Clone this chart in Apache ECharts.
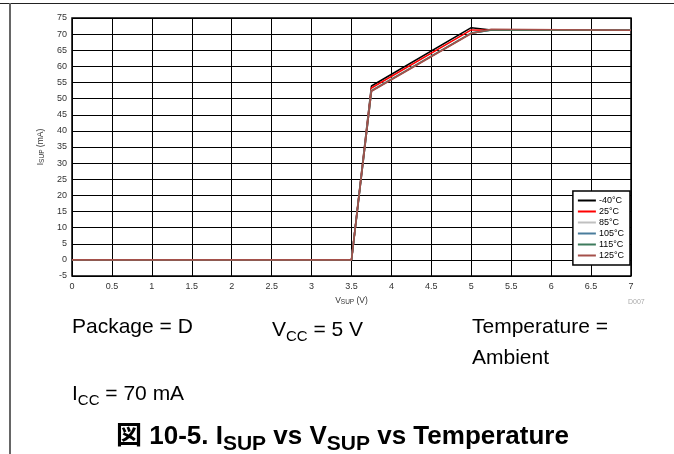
<!DOCTYPE html>
<html><head><meta charset="utf-8">
<script src="https://cdn.jsdelivr.net/npm/echarts@6/dist/echarts.min.js"></script>
<style>html,body{margin:0;padding:0;background:#fff}#c{width:674px;height:454px}</style>
</head><body><div id="c"></div>
<script>
const vsup = [0, 3.5, 3.75, 5, 5.25, 7];
const seriesNames = ['-40°C', '25°C', '85°C', '105°C', '115°C', '125°C'];
const iM40 = [0, 0, 53.9, 72.0, 71.3, 71.2];
const i25 = [0, 0, 53.3, 71.3, 71.2, 71.2];
const i85 = [0, 0, 52.6, 70.4, 71.2, 71.2];
const i105 = [0, 0, 52.4, 70.3, 71.3, 71.2];
const i115 = [0, 0, 52.4, 70.3, 71.3, 71.2];
const i125 = [0, 0, 52.3, 70.2, 71.5, 71.2];
const xTicks = ['0','0.5','1','1.5','2','2.5','3','3.5','4','4.5','5','5.5','6','6.5','7'];
const colors = ['#000000', '#ff0000', '#c0c0c0', '#4a7d9c', '#3d7a5c', '#a5504a'];
const allY = [iM40, i25, i85, i105, i115, i125];

const chart = echarts.init(document.getElementById('c'));
const font = 'Liberation Sans, Arial, sans-serif';
const body = {fontSize: 21, lineHeight: 24, fill: '#000', fontFamily: font};
const bodySub = {fontSize: 15, lineHeight: 24, fill: '#000', fontFamily: font, padding: [12, 0, 0, 0]};
chart.setOption({
  animation: false,
  backgroundColor: '#fff',
  grid: {left: 72, right: 43, top: 18, bottom: 178, show: true, borderColor: '#000', borderWidth: 1.5},
  xAxis: {
    type: 'value', min: 0, max: 7, interval: 0.5,
    axisLine: {show: false}, axisTick: {show: false},
    axisLabel: {fontSize: 9, color: '#333', fontFamily: font, margin: 6,
      formatter: v => xTicks[Math.round(v * 2)]},
    splitLine: {lineStyle: {color: '#000', width: 1}},
    name: '{m|V}{s|SUP}{m| (V)}', nameLocation: 'middle', nameGap: 17,
    nameTextStyle: {rich: {m: {fontSize: 8.5, color: '#333', fontFamily: font}, s: {fontSize: 6.5, color: '#333', fontFamily: font, padding: [3,0,0,0]}}}
  },
  yAxis: {
    type: 'value', min: -5, max: 75, interval: 5,
    axisLine: {show: false}, axisTick: {show: false},
    axisLabel: {fontSize: 9, color: '#333', fontFamily: font, margin: 5},
    splitLine: {lineStyle: {color: '#000', width: 1}},
    name: '{m|I}{s|SUP}{m| (mA)}', nameLocation: 'middle', nameGap: 17, nameRotate: 90,
    nameTextStyle: {rich: {m: {fontSize: 8.5, color: '#333', fontFamily: font}, s: {fontSize: 6.5, color: '#333', fontFamily: font, padding: [3,0,0,0]}}}
  },
  legend: {
    orient: 'vertical', right: 44, top: 191,
    backgroundColor: '#fff', borderColor: '#000', borderWidth: 1.5,
    padding: [5, 6, 5, 5], itemGap: 2, itemWidth: 18, itemHeight: 2, icon: 'rect',
    textStyle: {fontSize: 9, color: '#000', fontFamily: font, padding: [0,0,0,-2]},
    data: seriesNames
  },
  series: allY.map((ys, k) => ({
    name: seriesNames[k], type: 'line', symbol: 'none',
    data: vsup.map((x, i) => [x, ys[i]]),
    lineStyle: {color: colors[k], width: 1.6}, itemStyle: {color: colors[k]}
  })),
  graphic: [
    {type: 'line', shape: {x1: 0, y1: 3.5, x2: 674, y2: 3.5}, style: {stroke: '#222', lineWidth: 1}},
    {type: 'line', shape: {x1: 10, y1: 3, x2: 10, y2: 454}, style: {stroke: '#666', lineWidth: 2}},
    {type: 'text', left: 628, top: 299, style: {text: 'D007', fontSize: 7, fill: '#aaa', fontFamily: font}},
    {type: 'text', left: 72, top: 317, style: {rich: {m: body}, text: '{m|Package = D}'}},
    {type: 'text', left: 272, top: 317, style: {rich: {m: body, s: bodySub}, text: '{m|V}{s|CC}{m| = 5 V}'}},
    {type: 'text', left: 472, top: 317, style: {rich: {m: body}, text: '{m|Temperature =}'}},
    {type: 'text', left: 472, top: 348, style: {rich: {m: body}, text: '{m|Ambient}'}},
    {type: 'text', left: 72, top: 381, style: {rich: {m: body, s: bodySub}, text: '{m|I}{s|CC}{m| = 70 mA}'}},
    {type: 'text', left: 116, top: 419, style: {rich: {
        m: {fontSize: 26, lineHeight: 30, fontWeight: 'bold', fill: '#000', fontFamily: 'Liberation Sans, Noto Sans CJK JP, sans-serif'},
        s: {fontSize: 21, lineHeight: 30, fontWeight: 'bold', fill: '#000', fontFamily: font, padding: [15,0,0,0]}},
      text: '{m|図 10-5. I}{s|SUP}{m| vs V}{s|SUP}{m| vs Temperature}'}}
  ]
});
</script></body></html>
